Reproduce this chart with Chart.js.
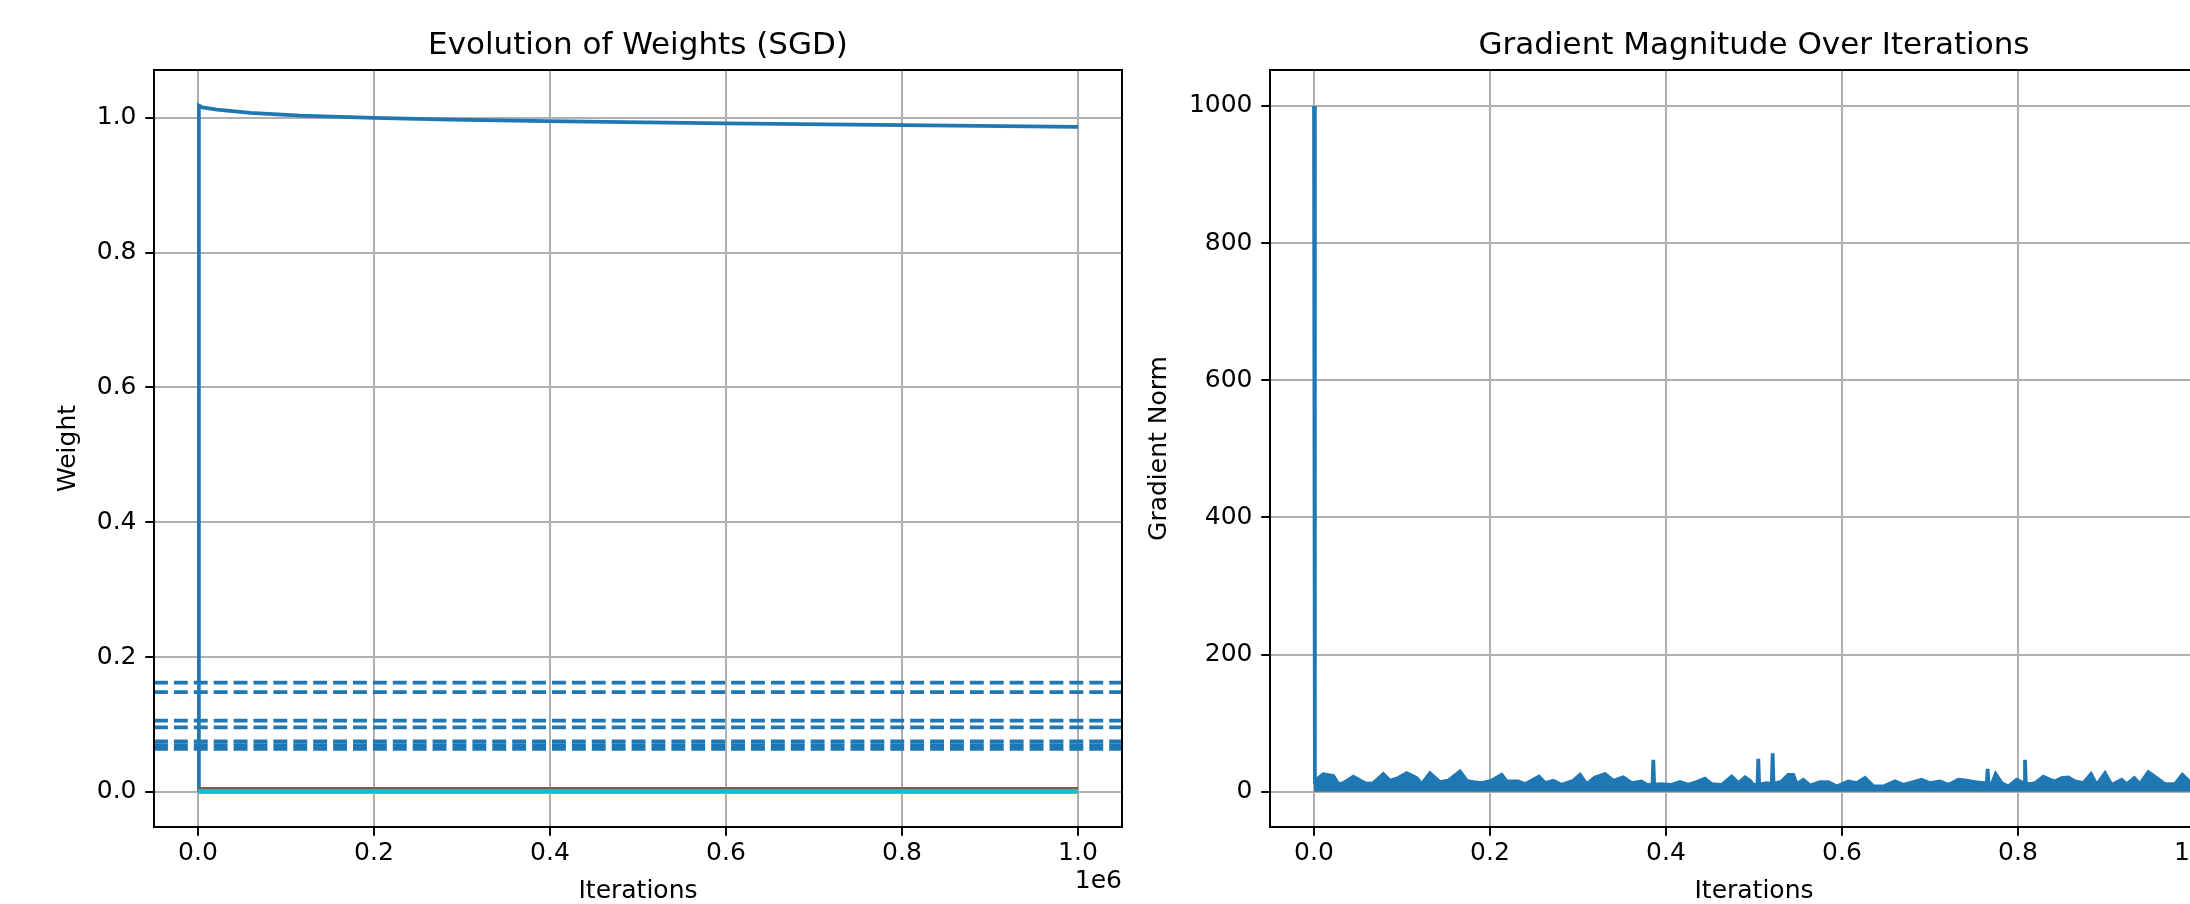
<!DOCTYPE html>
<html>
<head>
<meta charset="utf-8">
<script src="https://cdn.jsdelivr.net/npm/chart.js@4.4.1/dist/chart.umd.min.js"></script>
<style>
  html, body { margin: 0; padding: 0; background: #fff; }
  body { width: 2190px; height: 904px; overflow: hidden; position: relative; }
  canvas { position: absolute; top: 0; }
  #weightsChart { left: 0; }
  #gradChart { left: 1130px; }
</style>
</head>
<body>
<canvas id="weightsChart" width="1200" height="904"></canvas>
<canvas id="gradChart" width="1160" height="904"></canvas>
<script>
// iterations for the weight curves
const weightIters = [0, 1000, 5000, 21700, 59500, 116000, 200000, 287000, 397000, 600000, 800000, 1000000];
const weight0 = [0, 1.0183, 1.0155, 1.0123, 1.0074, 1.0034, 1.0, 0.9975, 0.995, 0.992, 0.9893, 0.9865];

// the other weights stay flat near zero
const flatIters = [0, 1000000];
const flatWeights = [0.0005, 0.0005, 0.003, 0.0005, 0.0045, 0.0005, 0.0005, 0.0005, 0.0012];

// true weights, drawn as dashed horizontal lines
const trueWeights = [0.162, 0.148, 0.1057, 0.0958, 0.075, 0.0695, 0.064];

// gradient norm (upper edge of the noisy band)
const gradIter = [0, 1000, 10600, 22000, 27650, 33300, 44700, 54200, 59800, 67400, 78800, 86400, 95800,
  105300, 116700, 122300, 131800, 143200, 152600, 165900, 173500, 181000, 190500, 201800, 213300, 218900,
  232200, 239800, 255700, 262500, 272000, 281400, 294700, 302300, 309800, 319300, 330700, 340200, 351500,
  361000, 372300, 378000, 384600, 385600, 386600, 393200, 406400, 415900, 425400, 434800, 444300, 451900,
  463300, 474600, 482200, 489800, 495500, 499200, 503900, 504900, 505900, 508700, 514400, 520200, 521200,
  522200, 525800, 531400, 539000, 544700, 548500, 556100, 563600, 575000, 584500, 594000, 607200, 616700,
  626100, 635600, 647000, 660200, 669700, 681100, 690500, 700000, 711400, 720800, 732200, 741700, 751100,
  764500, 765500, 766500, 770100, 774600, 781400, 789000, 798500, 806950, 807950, 808950, 813600, 819300,
  828800, 836400, 842000, 849600, 857200, 864800, 874200, 882950, 889400, 898900, 906400, 917800, 923500,
  932200, 938600, 948100, 957600, 967000, 978400, 986700, 993600, 1000000];
const gradNorm = [1000, 16, 25.6, 23, 11, 12.5, 22, 15, 11.5, 12.5, 25.6, 16, 20,
  27, 20, 11, 27, 14, 16, 29.5, 16, 14, 12.5, 16, 24.6, 15,
  15, 11, 22, 12.5, 16, 10, 16, 24.6, 11, 20.8, 25.6, 16, 20.8,
  12.5, 15, 10, 10, 46.5, 10, 11, 10, 14, 10, 14, 19, 11,
  10, 22, 12.5, 20.8, 16, 10, 10, 48, 10, 11, 12.5, 11, 56,
  11, 12.5, 15, 24.6, 24.6, 11, 17.4, 9, 14, 14, 7.7, 15, 12.5,
  20, 7.7, 7.7, 15, 10, 14, 17.4, 12.5, 15, 10, 17.4, 16, 14,
  12, 33.4, 12, 11, 25.6, 12.5, 7.7, 17.4, 12, 46.5, 12, 11, 12.5,
  22, 17.4, 15, 20, 20.8, 15, 12.5, 25.6, 10, 27, 10, 17.4, 11,
  20, 11, 28.5, 20, 11, 11, 24.6, 16, 12];

const xTicks = [0, 200000, 400000, 600000, 800000, 1000000];
const weightTicks = [0, 0.2, 0.4, 0.6, 0.8, 1.0];
const gradTicks = [0, 200, 400, 600, 800, 1000];

const X_MIN = -50000, X_MAX = 1050000;
const tab10 = ['#1f77b4', '#ff7f0e', '#2ca02c', '#d62728', '#9467bd', '#8c564b', '#e377c2', '#7f7f7f', '#bcbd22', '#17becf'];

Chart.defaults.font.family = '"DejaVu Sans", sans-serif';
Chart.defaults.color = '#000';

const LW = 3.75;

function toPoints(xs, ys) {
  return xs.map((x, i) => ({ x, y: ys[i] }));
}

// black box round the plot area and the 1e6 offset label
const framePlugin = {
  id: 'frame',
  afterDatasetsDraw(chart) {
    const { ctx, chartArea: a } = chart;
    ctx.save();
    ctx.strokeStyle = '#000';
    ctx.lineWidth = 2;
    ctx.strokeRect(a.left, a.top, a.right - a.left, a.bottom - a.top);
    ctx.fillStyle = '#000';
    ctx.font = '25px "DejaVu Sans"';
    ctx.textAlign = 'right';
    ctx.textBaseline = 'middle';
    ctx.fillText('1e6', a.right, a.bottom + 54);
    ctx.restore();
  }
};

function xScale() {
  return {
    type: 'linear',
    min: X_MIN,
    max: X_MAX,
    afterBuildTicks: (s) => { s.ticks = xTicks.map(v => ({ value: v })); },
    afterFit: (s) => { s.height = 77; },
    ticks: { font: { size: 25 }, padding: 3, maxRotation: 0, callback: (v) => (v / 1e6).toFixed(1) },
    grid: { color: '#b0b0b0', lineWidth: 2, tickColor: '#000', tickLength: 8.75, tickWidth: 2 },
    border: { display: false },
    title: { display: true, text: 'Iterations', font: { size: 25, lineHeight: 1 }, padding: { top: 0, bottom: 0 } }
  };
}

function yScale(min, max, ticks, width, label, titlePad, fmt) {
  return {
    type: 'linear',
    min,
    max,
    afterBuildTicks: (s) => { s.ticks = ticks.map(v => ({ value: v })); },
    afterFit: (s) => { s.width = width; },
    ticks: { font: { size: 25 }, padding: 8.75, callback: fmt },
    grid: { color: '#b0b0b0', lineWidth: 2, tickColor: '#000', tickLength: 8.75, tickWidth: 2 },
    border: { display: false },
    title: { display: true, text: label, font: { size: 25 }, padding: { top: titlePad, bottom: 0 } }
  };
}

function titleOpts(text) {
  return {
    display: true,
    text,
    fullSize: false,
    font: { size: 31, weight: 'normal' },
    color: '#000',
    padding: { top: 27, bottom: 5.8 }
  };
}

// weights chart
const weightSets = [];
let order = 100;
weightSets.push({
  data: toPoints(weightIters, weight0),
  borderColor: tab10[0],
  borderWidth: LW,
  order: order--
});
flatWeights.forEach((v, i) => {
  weightSets.push({
    data: toPoints(flatIters, [v, v]),
    borderColor: tab10[i + 1],
    borderWidth: LW,
    order: order--
  });
});
trueWeights.forEach((v) => {
  weightSets.push({
    data: toPoints([X_MIN, X_MAX], [v, v]),
    borderColor: tab10[0],
    borderWidth: LW,
    borderDash: [13.9, 6],
    order: order--
  });
});

new Chart(document.getElementById('weightsChart'), {
  type: 'line',
  data: { datasets: weightSets },
  options: {
    responsive: false,
    animation: false,
    events: [],
    layout: { padding: { left: 0, right: 78, top: 0, bottom: 0 } },
    elements: { point: { radius: 0 }, line: { tension: 0, fill: false } },
    plugins: { legend: { display: false }, tooltip: { enabled: false }, title: titleOpts('Evolution of Weights (SGD)') },
    scales: {
      x: xScale(),
      y: yScale(-0.052, 1.071, weightTicks, 154, 'Weight', 53, (v) => v.toFixed(1))
    }
  },
  plugins: [framePlugin]
});

// gradient chart
new Chart(document.getElementById('gradChart'), {
  type: 'line',
  data: {
    datasets: [{
      data: toPoints(gradIter, gradNorm),
      borderColor: tab10[0],
      backgroundColor: tab10[0],
      borderWidth: LW,
      fill: 'origin'
    }]
  },
  options: {
    responsive: false,
    animation: false,
    events: [],
    layout: { padding: { left: 0, right: 52, top: 0, bottom: 0 } },
    elements: { point: { radius: 0 }, line: { tension: 0 } },
    plugins: { legend: { display: false }, tooltip: { enabled: false }, title: titleOpts('Gradient Magnitude Over Iterations') },
    scales: {
      x: xScale(),
      y: yScale(-51.5, 1052.5, gradTicks, 140, 'Gradient Norm', 14, (v) => String(v))
    }
  },
  plugins: [framePlugin]
});
</script>
</body>
</html>
